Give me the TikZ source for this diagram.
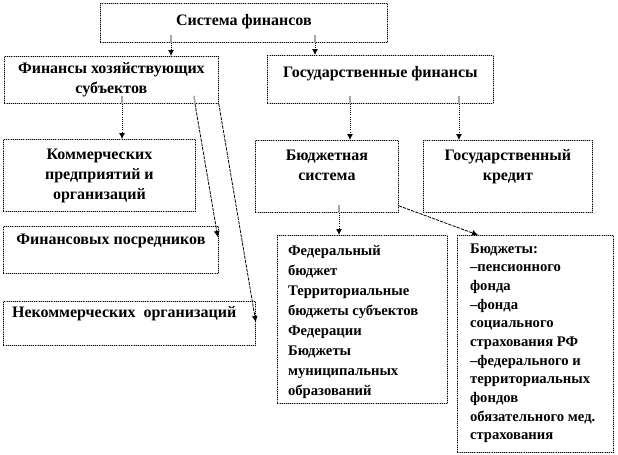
\documentclass[tikz,border=0pt]{standalone}
\usepackage{fontspec}
\setmainfont{Liberation Serif}
\usetikzlibrary{arrows.meta}
\tikzset{
  fbox/.style={rectangle,draw=black,densely dotted,line width=0.6pt,
    preaction={draw=gray!55,solid,line width=0.6pt},inner sep=0pt,
    anchor=north west,font=\bfseries\fontsize{12}{15}\selectfont},
  listbox/.style={fbox,font=\bfseries\fontsize{11}{15}\selectfont},
  link/.style={-{Latex[length=4.5pt,width=4.5pt]},densely dotted,line width=0.6pt},
  diag/.style={link,dash pattern=on 2.5pt off 0.8pt},
  stub/.style={draw=gray!70,line width=1.2pt}
}
% box of w x h px, text starting #3 below the top
\newcommand\cell[4]{\parbox[c][\dimexpr#2pt*3/4\relax][t]{\dimexpr#1pt*3/4\relax}{\vspace*{#3}#4\par}}

\begin{document}
\begin{tikzpicture}[x=0.75pt,y=-0.75pt]
\useasboundingbox (0,0) rectangle (618,454);
% boxes
\node[fbox] (sys) at (100,3) {\cell{287}{39}{8pt}{\centering Система финансов}};
\node[fbox] (hoz) at (4,56) {\cell{214}{47}{4.5pt}{\centering Финансы хозяйствующих\\ субъектов}};
\node[fbox] (gos) at (267,55) {\cell{226}{48}{8pt}{\centering Государственные финансы}};
\node[fbox] (kom) at (3,139) {\cell{192}{72}{7pt}{\centering Коммерческих\\ предприятий и\\ организаций}};
\node[fbox] (pos) at (3,226) {\cell{215}{47}{6pt}{\centering Финансовых посредников}};
\node[fbox] (nek) at (3,301) {\cell{252}{44}{4pt}{\hspace*{6.5pt}Некоммерческих~ организаций}};
\node[fbox] (bud) at (255,140) {\cell{143}{72}{7pt}{\centering Бюджетная\\ система}};
\node[fbox] (kred) at (423,140) {\cell{169}{72}{7pt}{\centering Государственный\\ кредит}};
\node[listbox] (fed) at (277,235) {\cell{170}{168}{7.5pt}{\raggedright\leftskip=8pt
  Федеральный\\ бюджет\\ Территориальные\\ бюджеты субъектов\\ Федерации\\
  Бюджеты\\ муниципальных\\ образований}};
\node[listbox] (fon) at (457,235) {\cell{156}{217}{6pt}{\raggedright\leftskip=9.5pt\baselineskip=14pt
  Бюджеты:\\ --пенсионного\\ фонда\\ --фонда\\ социального\\ страхования РФ\\
  --федерального и\\ территориальных\\ фондов\\ обязательного мед.\\ страхования}};
% connectors
\draw[stub] ([shift={(71,-8)}]sys.south west) -- ([shift={(71,0)}]sys.south west);
\draw[link] ([shift={(71,0)}]sys.south west) -- ([shift={(71,0)}]sys.south west |- hoz.north);
\draw[stub] ([shift={(215,-8)}]sys.south west) -- ([shift={(215,0)}]sys.south west);
\draw[link] ([shift={(215,0)}]sys.south west) -- ([shift={(215,0)}]sys.south west |- gos.north);
\draw[stub] ([shift={(118,-8)}]hoz.south west) -- ([shift={(118,0)}]hoz.south west);
\draw[link] ([shift={(118,0)}]hoz.south west) -- ([shift={(118,0)}]hoz.south west |- kom.north);
\draw[stub] ([shift={(190,-8)}]hoz.south west) -- ([shift={(191,0)}]hoz.south west);
\draw[diag] ([shift={(191,0)}]hoz.south west) -- ([shift={(-1,11)}]pos.north east);
\draw[diag] (hoz.south east) -- ([shift={(0,21)}]nek.north east);
\draw[stub] ([shift={(83,-8)}]gos.south west) -- ([shift={(83,0)}]gos.south west);
\draw[link] ([shift={(83,0)}]gos.south west) -- ([shift={(83,0)}]gos.south west |- bud.north);
\draw[stub] ([shift={(192,-8)}]gos.south west) -- ([shift={(192,0)}]gos.south west);
\draw[link] ([shift={(192,0)}]gos.south west) -- ([shift={(192,0)}]gos.south west |- kred.north);
\draw[stub] ([shift={(84,-8)}]bud.south west) -- ([shift={(84,0)}]bud.south west);
\draw[link] ([shift={(84,0)}]bud.south west) -- ([shift={(84,0)}]bud.south west |- fed.north);
\draw[diag] ([shift={(0,-7)}]bud.south east) -- ([shift={(21,0)}]fon.north west);
\end{tikzpicture}
\end{document}
